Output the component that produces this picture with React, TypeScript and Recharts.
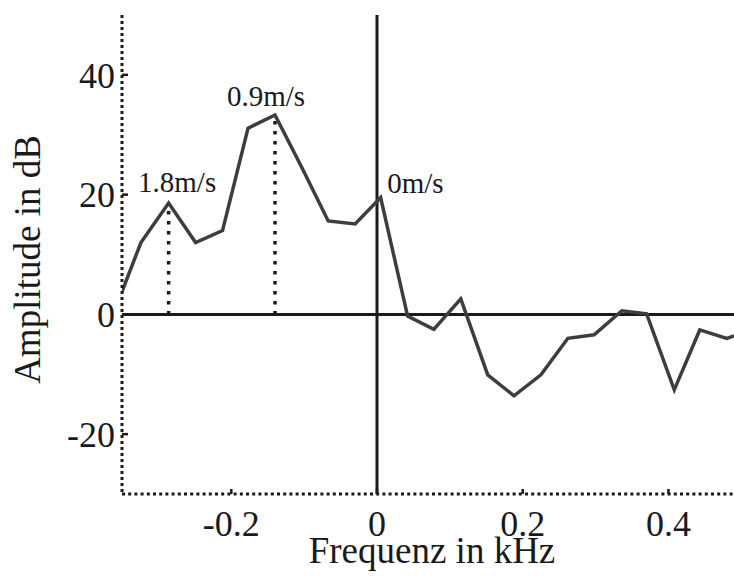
import { LineChart, Line, XAxis, YAxis, ReferenceLine, ReferenceDot } from "recharts";

// frequency bins in kHz and the amplitude in dB
const freqs = [
  -0.35, -0.324, -0.286, -0.249, -0.212, -0.177, -0.14, -0.103, -0.067, -0.03, 0.005, 0.042, 0.078,
  0.115, 0.152, 0.188, 0.225, 0.262, 0.298, 0.336, 0.37, 0.408, 0.443, 0.48, 0.49,
];
const amps = [
  3.8, 12.0, 18.6, 12.0, 14.0, 31.1, 33.3, 24.5, 15.6, 15.1, 19.5, -0.3, -2.5, 2.6, -10.1, -13.6,
  -10.1, -4.0, -3.4, 0.6, 0.1, -12.6, -2.6, -4.0, -3.6,
];

const xTicks = [-0.2, 0, 0.2, 0.4];
const yTicks = [-20, 0, 20, 40];

// dotted drops from the two speed peaks
const dropFreqs = [-0.286, -0.14];
const dropAmps = [18.6, 33.3];

// speed annotations (anchored at the start of the text, on its baseline)
const peakLabels = ["1.8m/s", "0.9m/s", "0m/s"];
const peakLabelFreqs = [-0.328, -0.206, 0.014];
const peakLabelAmps = [20.5, 34.8, 20.3];

const data = freqs.map((f, i) => ({ freq: f, amp: amps[i] }));

const FONT = "'Liberation Serif', 'Times New Roman', serif";
const INK = "#1a1a1a";
const Y_MARGIN = 7;
const X_MARGIN = 16;

function YTick({ x, y, payload }: any) {
  return (
    <g>
      <line x1={x + Y_MARGIN} x2={x + Y_MARGIN + 6} y1={y} y2={y} stroke={INK} strokeWidth={2.5} />
      <text x={x} y={y} dy="0.355em" textAnchor="end" fontSize={36} fontFamily={FONT} fill={INK}>
        {payload.value}
      </text>
    </g>
  );
}

function XTick({ x, y, payload }: any) {
  return (
    <g>
      <line x1={x} x2={x} y1={y - X_MARGIN} y2={y - X_MARGIN - 5} stroke={INK} strokeWidth={2.5} />
      <text x={x} y={y} dy="0.71em" textAnchor="middle" fontSize={36} fontFamily={FONT} fill={INK}>
        {payload.value}
      </text>
    </g>
  );
}

export default function App() {
  return (
    <div style={{ position: "absolute", left: 0, top: 0, background: "#fff" }}>
      <LineChart width={734} height={576} data={data} margin={{ top: 15, right: 0, bottom: 0, left: 0 }}>
        <XAxis
          dataKey="freq"
          type="number"
          domain={[-0.35, 0.49]}
          ticks={xTicks}
          allowDataOverflow
          height={82}
          tickSize={0}
          tickMargin={X_MARGIN}
          tickLine={false}
          tick={<XTick />}
          axisLine={{ stroke: INK, strokeWidth: 3, strokeDasharray: "3 3.2" }}
          label={{
            content: ({ viewBox }: any) => (
              <text
                x={viewBox.x + viewBox.width / 2 + 4}
                y={viewBox.y + viewBox.height - 13}
                textAnchor="middle"
                fontSize={37}
                fontFamily={FONT}
                fill={INK}
              >
                Frequenz in kHz
              </text>
            ),
          }}
        />
        <YAxis
          type="number"
          domain={[-30, 50]}
          ticks={yTicks}
          allowDataOverflow
          width={122}
          tickSize={0}
          tickMargin={Y_MARGIN}
          tickLine={false}
          tick={<YTick />}
          axisLine={{ stroke: INK, strokeWidth: 3, strokeDasharray: "3 3" }}
          label={{
            content: ({ viewBox }: any) => {
              const cx = viewBox.x + 40;
              const cy = viewBox.y + viewBox.height / 2 + 5;
              return (
                <text
                  x={cx}
                  y={cy}
                  transform={`rotate(-90 ${cx} ${cy})`}
                  textAnchor="middle"
                  fontSize={37}
                  fontFamily={FONT}
                  fill={INK}
                >
                  Amplitude in dB
                </text>
              );
            },
          }}
        />
        <ReferenceLine x={0} stroke={INK} strokeWidth={3} />
        <ReferenceLine y={0} stroke={INK} strokeWidth={3} />
        {dropFreqs.map((f, i) => (
          <ReferenceLine
            key={`drop-${i}`}
            segment={[
              { x: f, y: 0 },
              { x: f, y: dropAmps[i] },
            ]}
            stroke={INK}
            strokeWidth={3.5}
            strokeDasharray="3.5 6.5"
          />
        ))}
        <Line
          dataKey="amp"
          type="linear"
          stroke="#3d3d3d"
          strokeWidth={3.5}
          dot={false}
          activeDot={false}
          isAnimationActive={false}
        />
        {peakLabels.map((label, i) => (
          <ReferenceDot
            key={label}
            x={peakLabelFreqs[i]}
            y={peakLabelAmps[i]}
            r={0}
            shape={(p: any) => (
              <text x={p.cx} y={p.cy} fontSize={29} fontFamily={FONT} fill={INK}>
                {label}
              </text>
            )}
          />
        ))}
      </LineChart>
    </div>
  );
}
